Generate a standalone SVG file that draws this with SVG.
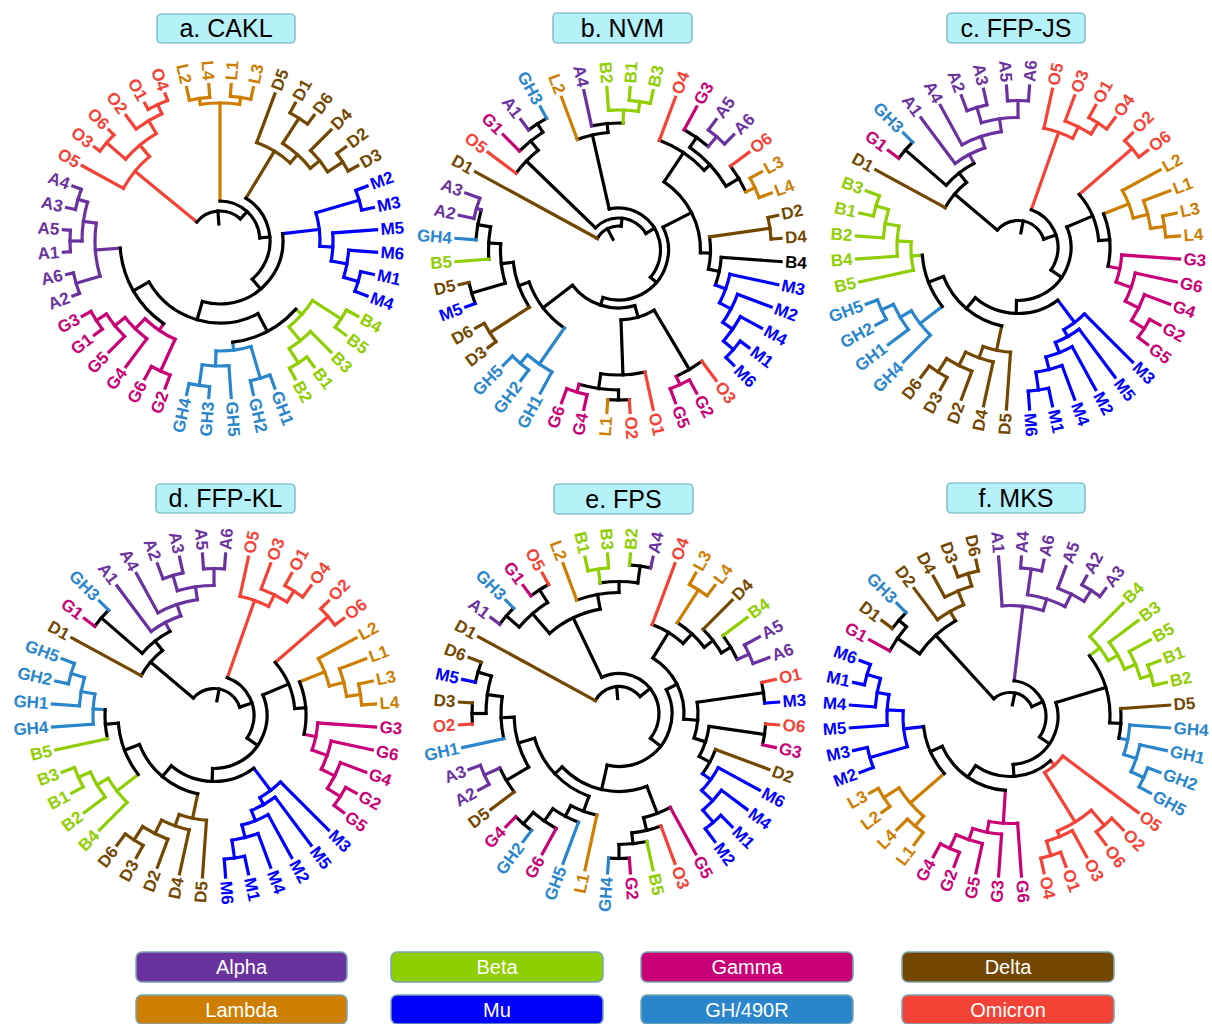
<svg xmlns="http://www.w3.org/2000/svg" width="1212" height="1024" viewBox="0 0 1212 1024">
<style>
.e line,.e circle{fill:none;stroke-width:3.2;stroke-linecap:square}
.k{stroke:#000}.A{stroke:#6a329f}.B{stroke:#8fce00}.G{stroke:#c90076}.D{stroke:#744700}.L{stroke:#ce7e00}.M{stroke:#0000ff}.H{stroke:#2986cc}.O{stroke:#f44336}
.n text{font-family:"Liberation Sans",Arial,sans-serif;font-weight:bold;font-size:17px;dominant-baseline:central;stroke:none}
.n .l{text-anchor:end}
.n .k{fill:#000}.n .A{fill:#6a329f}.n .B{fill:#8fce00}.n .G{fill:#c90076}.n .D{fill:#744700}.n .L{fill:#ce7e00}.n .M{fill:#0000ff}.n .H{fill:#2986cc}.n .O{fill:#f44336}
.title rect{fill:#b5f1f8;stroke:#69aeb9;stroke-width:1.2}
.title text{font-family:"Liberation Sans",Arial,sans-serif;font-size:25px;text-anchor:middle;fill:#000}
.key rect{stroke:#7aa7b1;stroke-width:1.5}
.key text{font-family:"Liberation Sans",Arial,sans-serif;font-size:20px;fill:#fff;text-anchor:middle;dominant-baseline:central}
</style>

<!-- panel titles -->
<g id="title-a" class="title"><rect x="157" y="14" width="138" height="29" rx="4"/><text x="226" y="37">a. CAKL</text></g>
<g id="title-b" class="title"><rect x="553" y="13" width="139" height="30" rx="4"/><text x="622.5" y="37">b. NVM</text></g>
<g id="title-c" class="title"><rect x="947" y="13" width="138" height="30" rx="4"/><text x="1016" y="37">c. FFP-JS</text></g>
<g id="title-d" class="title"><rect x="156" y="484" width="139" height="29" rx="4"/><text x="225.5" y="507">d. FFP-KL</text></g>
<g id="title-e" class="title"><rect x="554" y="484" width="139" height="30" rx="4"/><text x="623.5" y="508">e. FPS</text></g>
<g id="title-f" class="title"><rect x="947" y="483" width="138" height="30" rx="4"/><text x="1016" y="507">f. MKS</text></g>

<!-- ================= a. CAKL ================= -->
<g id="tree-a" transform="translate(220,241)">
<g id="a-edges" class="e">
<circle class="M" r="144" pathLength="360" stroke-dasharray="8.18 720" transform="rotate(12.27)"/>
<line class="M" x1="144" x2="157" transform="rotate(12.27)"/>
<line class="M" x1="144" x2="157" transform="rotate(20.45)"/>
<circle class="M" r="129" pathLength="360" stroke-dasharray="12.27 720" transform="rotate(4.09)"/>
<line class="M" x1="129" x2="157" transform="rotate(4.09)"/>
<line class="M" x1="129" x2="144" transform="rotate(16.36)"/>
<circle class="M" r="113" pathLength="360" stroke-dasharray="14.32 720" transform="rotate(-4.09)"/>
<line class="M" x1="113" x2="157" transform="rotate(-4.09)"/>
<line class="M" x1="113" x2="129" transform="rotate(10.23)"/>
<circle class="M" r="145" pathLength="360" stroke-dasharray="8.18 720" transform="rotate(-20.45)"/>
<line class="M" x1="145" x2="157" transform="rotate(-20.45)"/>
<line class="M" x1="145" x2="157" transform="rotate(-12.27)"/>
<circle class="M" r="100" pathLength="360" stroke-dasharray="19.43 720" transform="rotate(-16.36)"/>
<line class="M" x1="100" x2="145" transform="rotate(-16.36)"/>
<line class="M" x1="100" x2="113" transform="rotate(3.07)"/>
<line class="M" x1="63" x2="100" transform="rotate(-6.65)"/>
<circle class="B" r="144" pathLength="360" stroke-dasharray="8.18 720" transform="rotate(28.64)"/>
<line class="B" x1="144" x2="157" transform="rotate(28.64)"/>
<line class="B" x1="144" x2="157" transform="rotate(36.82)"/>
<circle class="B" r="145" pathLength="360" stroke-dasharray="8.18 720" transform="rotate(53.18)"/>
<line class="B" x1="145" x2="157" transform="rotate(53.18)"/>
<line class="B" x1="145" x2="157" transform="rotate(61.36)"/>
<circle class="B" r="128" pathLength="360" stroke-dasharray="12.27 720" transform="rotate(45)"/>
<line class="B" x1="128" x2="157" transform="rotate(45)"/>
<line class="B" x1="128" x2="145" transform="rotate(57.27)"/>
<circle class="B" r="110" pathLength="360" stroke-dasharray="18.41 720" transform="rotate(32.73)"/>
<line class="B" x1="110" x2="144" transform="rotate(32.73)"/>
<line class="B" x1="110" x2="128" transform="rotate(51.14)"/>
<line class="B" x1="102" x2="110" transform="rotate(41.94)"/>
<circle class="H" r="143" pathLength="360" stroke-dasharray="8.18 720" transform="rotate(69.55)"/>
<line class="H" x1="143" x2="157" transform="rotate(69.55)"/>
<line class="H" x1="143" x2="157" transform="rotate(77.73)"/>
<circle class="H" r="146" pathLength="360" stroke-dasharray="8.18 720" transform="rotate(94.09)"/>
<line class="H" x1="146" x2="157" transform="rotate(94.09)"/>
<line class="H" x1="146" x2="157" transform="rotate(102.27)"/>
<circle class="H" r="125" pathLength="360" stroke-dasharray="12.27 720" transform="rotate(85.91)"/>
<line class="H" x1="125" x2="157" transform="rotate(85.91)"/>
<line class="H" x1="125" x2="146" transform="rotate(98.18)"/>
<circle class="H" r="110" pathLength="360" stroke-dasharray="18.41 720" transform="rotate(73.64)"/>
<line class="H" x1="110" x2="143" transform="rotate(73.64)"/>
<line class="H" x1="110" x2="125" transform="rotate(92.05)"/>
<line class="H" x1="102" x2="110" transform="rotate(82.84)"/>
<circle class="k" r="102" pathLength="360" stroke-dasharray="40.9 720" transform="rotate(41.94)"/>
<line class="k" x1="82" x2="102" transform="rotate(62.39)"/>
<circle class="G" r="147" pathLength="360" stroke-dasharray="8.18 720" transform="rotate(143.18)"/>
<line class="G" x1="147" x2="157" transform="rotate(143.18)"/>
<line class="G" x1="147" x2="157" transform="rotate(151.36)"/>
<circle class="G" r="135" pathLength="360" stroke-dasharray="12.27 720" transform="rotate(135)"/>
<line class="G" x1="135" x2="157" transform="rotate(135)"/>
<line class="G" x1="135" x2="147" transform="rotate(147.27)"/>
<circle class="G" r="122" pathLength="360" stroke-dasharray="14.32 720" transform="rotate(126.82)"/>
<line class="G" x1="122" x2="157" transform="rotate(126.82)"/>
<line class="G" x1="122" x2="135" transform="rotate(141.14)"/>
<circle class="G" r="143" pathLength="360" stroke-dasharray="8.19 720" transform="rotate(110.45)"/>
<line class="G" x1="143" x2="157" transform="rotate(110.45)"/>
<line class="G" x1="143" x2="157" transform="rotate(118.64)"/>
<circle class="G" r="108" pathLength="360" stroke-dasharray="19.43 720" transform="rotate(114.55)"/>
<line class="G" x1="108" x2="143" transform="rotate(114.55)"/>
<line class="G" x1="108" x2="122" transform="rotate(133.98)"/>
<line class="G" x1="100" x2="108" transform="rotate(124.27)"/>
<circle class="A" r="150" pathLength="360" stroke-dasharray="8.18 720" transform="rotate(159.55)"/>
<line class="A" x1="150" x2="157" transform="rotate(159.55)"/>
<line class="A" x1="150" x2="157" transform="rotate(167.73)"/>
<circle class="A" r="150" pathLength="360" stroke-dasharray="8.18 720" transform="rotate(175.91)"/>
<line class="A" x1="150" x2="157" transform="rotate(175.91)"/>
<line class="A" x1="150" x2="157" transform="rotate(184.09)"/>
<circle class="A" r="148" pathLength="360" stroke-dasharray="8.18 720" transform="rotate(192.27)"/>
<line class="A" x1="148" x2="157" transform="rotate(192.27)"/>
<line class="A" x1="148" x2="157" transform="rotate(200.45)"/>
<circle class="A" r="138" pathLength="360" stroke-dasharray="16.36 720" transform="rotate(180)"/>
<line class="A" x1="138" x2="150" transform="rotate(180)"/>
<line class="A" x1="138" x2="148" transform="rotate(196.36)"/>
<circle class="A" r="125" pathLength="360" stroke-dasharray="24.54 720" transform="rotate(163.64)"/>
<line class="A" x1="125" x2="150" transform="rotate(163.64)"/>
<line class="A" x1="125" x2="138" transform="rotate(188.18)"/>
<line class="A" x1="100" x2="125" transform="rotate(175.91)"/>
<circle class="k" r="100" pathLength="360" stroke-dasharray="51.64 720" transform="rotate(124.27)"/>
<line class="k" x1="82" x2="100" transform="rotate(150.09)"/>
<circle class="k" r="82" pathLength="360" stroke-dasharray="87.7 720" transform="rotate(62.39)"/>
<line class="k" x1="63" x2="82" transform="rotate(106.24)"/>
<circle class="k" r="63" pathLength="360" stroke-dasharray="112.89 720" transform="rotate(-6.65)"/>
<line class="k" x1="50" x2="63" transform="rotate(49.8)"/>
<circle class="D" r="146" pathLength="360" stroke-dasharray="8.18 720" transform="rotate(323.18)"/>
<line class="D" x1="146" x2="157" transform="rotate(323.18)"/>
<line class="D" x1="146" x2="157" transform="rotate(331.36)"/>
<circle class="D" r="128" pathLength="360" stroke-dasharray="12.27 720" transform="rotate(315)"/>
<line class="D" x1="128" x2="157" transform="rotate(315)"/>
<line class="D" x1="128" x2="146" transform="rotate(327.27)"/>
<circle class="D" r="146" pathLength="360" stroke-dasharray="8.18 720" transform="rotate(298.64)"/>
<line class="D" x1="146" x2="157" transform="rotate(298.64)"/>
<line class="D" x1="146" x2="157" transform="rotate(306.82)"/>
<circle class="D" r="116" pathLength="360" stroke-dasharray="18.41 720" transform="rotate(302.73)"/>
<line class="D" x1="116" x2="146" transform="rotate(302.73)"/>
<line class="D" x1="116" x2="128" transform="rotate(321.14)"/>
<circle class="D" r="105" pathLength="360" stroke-dasharray="21.48 720" transform="rotate(290.45)"/>
<line class="D" x1="105" x2="157" transform="rotate(290.45)"/>
<line class="D" x1="105" x2="116" transform="rotate(311.93)"/>
<line class="D" x1="50" x2="105" transform="rotate(301.19)"/>
<circle class="k" r="50" pathLength="360" stroke-dasharray="108.61 720" transform="rotate(301.19)"/>
<line class="k" x1="40" x2="50" transform="rotate(355.5)"/>
<circle class="L" r="144" pathLength="360" stroke-dasharray="8.18 720" transform="rotate(257.73)"/>
<line class="L" x1="144" x2="157" transform="rotate(257.73)"/>
<line class="L" x1="144" x2="157" transform="rotate(265.91)"/>
<circle class="L" r="145" pathLength="360" stroke-dasharray="8.18 720" transform="rotate(274.09)"/>
<line class="L" x1="145" x2="157" transform="rotate(274.09)"/>
<line class="L" x1="145" x2="157" transform="rotate(282.27)"/>
<circle class="L" r="138" pathLength="360" stroke-dasharray="16.36 720" transform="rotate(261.82)"/>
<line class="L" x1="138" x2="144" transform="rotate(261.82)"/>
<line class="L" x1="138" x2="145" transform="rotate(278.18)"/>
<line class="L" x1="40" x2="138" transform="rotate(270)"/>
<circle class="k" r="40" pathLength="360" stroke-dasharray="85.5 720" transform="rotate(270)"/>
<line class="k" x1="30" x2="40" transform="rotate(312.75)"/>
<circle class="O" r="150" pathLength="360" stroke-dasharray="8.19 720" transform="rotate(241.36)"/>
<line class="O" x1="150" x2="157" transform="rotate(241.36)"/>
<line class="O" x1="150" x2="157" transform="rotate(249.55)"/>
<circle class="O" r="140" pathLength="360" stroke-dasharray="12.27 720" transform="rotate(233.18)"/>
<line class="O" x1="140" x2="157" transform="rotate(233.18)"/>
<line class="O" x1="140" x2="150" transform="rotate(245.45)"/>
<circle class="O" r="150" pathLength="360" stroke-dasharray="8.18 720" transform="rotate(216.82)"/>
<line class="O" x1="150" x2="157" transform="rotate(216.82)"/>
<line class="O" x1="150" x2="157" transform="rotate(225)"/>
<circle class="O" r="125" pathLength="360" stroke-dasharray="18.41 720" transform="rotate(220.91)"/>
<line class="O" x1="125" x2="150" transform="rotate(220.91)"/>
<line class="O" x1="125" x2="140" transform="rotate(239.32)"/>
<circle class="O" r="110" pathLength="360" stroke-dasharray="21.47 720" transform="rotate(208.64)"/>
<line class="O" x1="110" x2="157" transform="rotate(208.64)"/>
<line class="O" x1="110" x2="125" transform="rotate(230.11)"/>
<line class="O" x1="30" x2="110" transform="rotate(219.38)"/>
<circle class="k" r="30" pathLength="360" stroke-dasharray="93.37 720" transform="rotate(219.38)"/>
<line class="k" x1="17" x2="30" transform="rotate(266.07)"/>
</g>
<g id="a-leaves" class="n">
<text id="a-M5" class="M" x="161" transform="rotate(-4.09)">M5</text>
<text id="a-M6" class="M" x="161" transform="rotate(4.09)">M6</text>
<text id="a-M1" class="M" x="161" transform="rotate(12.27)">M1</text>
<text id="a-M4" class="M" x="161" transform="rotate(20.45)">M4</text>
<text id="a-B4" class="B" x="161" transform="rotate(28.64)">B4</text>
<text id="a-B5" class="B" x="161" transform="rotate(36.82)">B5</text>
<text id="a-B3" class="B" x="161" transform="rotate(45)">B3</text>
<text id="a-B1" class="B" x="161" transform="rotate(53.18)">B1</text>
<text id="a-B2" class="B" x="161" transform="rotate(61.36)">B2</text>
<text id="a-GH1" class="H" x="161" transform="rotate(69.55)">GH1</text>
<text id="a-GH2" class="H" x="161" transform="rotate(77.73)">GH2</text>
<text id="a-GH5" class="H" x="161" transform="rotate(85.91)">GH5</text>
<text id="a-L1" class="L" x="161" transform="rotate(-85.91)">L1</text>
<text id="a-L3" class="L" x="161" transform="rotate(-77.73)">L3</text>
<text id="a-D5" class="D" x="161" transform="rotate(-69.55)">D5</text>
<text id="a-D1" class="D" x="161" transform="rotate(-61.36)">D1</text>
<text id="a-D6" class="D" x="161" transform="rotate(-53.18)">D6</text>
<text id="a-D4" class="D" x="161" transform="rotate(-45)">D4</text>
<text id="a-D2" class="D" x="161" transform="rotate(-36.82)">D2</text>
<text id="a-D3" class="D" x="161" transform="rotate(-28.64)">D3</text>
<text id="a-M2" class="M" x="161" transform="rotate(-20.45)">M2</text>
<text id="a-M3" class="M" x="161" transform="rotate(-12.27)">M3</text>
<text id="a-GH3" class="l H" x="-161" transform="rotate(-85.91)">GH3</text>
<text id="a-GH4" class="l H" x="-161" transform="rotate(-77.73)">GH4</text>
<text id="a-G2" class="l G" x="-161" transform="rotate(-69.55)">G2</text>
<text id="a-G6" class="l G" x="-161" transform="rotate(-61.36)">G6</text>
<text id="a-G4" class="l G" x="-161" transform="rotate(-53.18)">G4</text>
<text id="a-G5" class="l G" x="-161" transform="rotate(-45)">G5</text>
<text id="a-G1" class="l G" x="-161" transform="rotate(-36.82)">G1</text>
<text id="a-G3" class="l G" x="-161" transform="rotate(-28.64)">G3</text>
<text id="a-A2" class="l A" x="-161" transform="rotate(-20.45)">A2</text>
<text id="a-A6" class="l A" x="-161" transform="rotate(-12.27)">A6</text>
<text id="a-A1" class="l A" x="-161" transform="rotate(-4.09)">A1</text>
<text id="a-A5" class="l A" x="-161" transform="rotate(4.09)">A5</text>
<text id="a-A3" class="l A" x="-161" transform="rotate(12.27)">A3</text>
<text id="a-A4" class="l A" x="-161" transform="rotate(20.45)">A4</text>
<text id="a-O5" class="l O" x="-161" transform="rotate(28.64)">O5</text>
<text id="a-O3" class="l O" x="-161" transform="rotate(36.82)">O3</text>
<text id="a-O6" class="l O" x="-161" transform="rotate(45)">O6</text>
<text id="a-O2" class="l O" x="-161" transform="rotate(53.18)">O2</text>
<text id="a-O1" class="l O" x="-161" transform="rotate(61.36)">O1</text>
<text id="a-O4" class="l O" x="-161" transform="rotate(69.55)">O4</text>
<text id="a-L2" class="l L" x="-161" transform="rotate(77.73)">L2</text>
<text id="a-L4" class="l L" x="-161" transform="rotate(85.91)">L4</text>
</g>
</g>

<!-- ================= b. NVM ================= -->
<g id="tree-b" transform="translate(618.5,250)">
<g id="b-edges" class="e">
<circle class="A" r="150" pathLength="360" stroke-dasharray="8.18 720" transform="rotate(306.82)"/>
<line class="A" x1="150" x2="163" transform="rotate(306.82)"/>
<line class="A" x1="150" x2="163" transform="rotate(315)"/>
<circle class="k" r="137" pathLength="360" stroke-dasharray="12.27 720" transform="rotate(298.64)"/>
<line class="G" x1="137" x2="163" transform="rotate(298.64)"/>
<line class="A" x1="137" x2="150" transform="rotate(310.91)"/>
<circle class="L" r="150" pathLength="360" stroke-dasharray="8.19 720" transform="rotate(331.36)"/>
<line class="L" x1="150" x2="163" transform="rotate(331.36)"/>
<line class="L" x1="150" x2="163" transform="rotate(339.55)"/>
<circle class="k" r="140" pathLength="360" stroke-dasharray="12.27 720" transform="rotate(323.18)"/>
<line class="O" x1="140" x2="163" transform="rotate(323.18)"/>
<line class="L" x1="140" x2="150" transform="rotate(335.45)"/>
<circle class="k" r="125" pathLength="360" stroke-dasharray="24.54 720" transform="rotate(304.77)"/>
<line class="k" x1="125" x2="137" transform="rotate(304.77)"/>
<line class="k" x1="125" x2="140" transform="rotate(329.31)"/>
<circle class="k" r="117" pathLength="360" stroke-dasharray="26.59 720" transform="rotate(290.45)"/>
<line class="O" x1="117" x2="163" transform="rotate(290.45)"/>
<line class="k" x1="117" x2="125" transform="rotate(317.04)"/>
<circle class="D" r="153" pathLength="360" stroke-dasharray="8.18 720" transform="rotate(-12.27)"/>
<line class="D" x1="153" x2="163" transform="rotate(-12.27)"/>
<line class="D" x1="153" x2="163" transform="rotate(-4.09)"/>
<circle class="M" r="152" pathLength="360" stroke-dasharray="8.18 720" transform="rotate(36.82)"/>
<line class="M" x1="152" x2="163" transform="rotate(36.82)"/>
<line class="M" x1="152" x2="163" transform="rotate(45)"/>
<circle class="M" r="139" pathLength="360" stroke-dasharray="12.27 720" transform="rotate(28.64)"/>
<line class="M" x1="139" x2="163" transform="rotate(28.64)"/>
<line class="M" x1="139" x2="152" transform="rotate(40.91)"/>
<circle class="M" r="127" pathLength="360" stroke-dasharray="14.32 720" transform="rotate(20.45)"/>
<line class="M" x1="127" x2="163" transform="rotate(20.45)"/>
<line class="M" x1="127" x2="139" transform="rotate(34.77)"/>
<circle class="M" r="114" pathLength="360" stroke-dasharray="15.34 720" transform="rotate(12.27)"/>
<line class="M" x1="114" x2="163" transform="rotate(12.27)"/>
<line class="M" x1="114" x2="127" transform="rotate(27.61)"/>
<circle class="k" r="103" pathLength="360" stroke-dasharray="15.85 720" transform="rotate(4.09)"/>
<line class="k" x1="103" x2="163" transform="rotate(4.09)"/>
<line class="M" x1="103" x2="114" transform="rotate(19.94)"/>
<circle class="k" r="92" pathLength="360" stroke-dasharray="20.2 720" transform="rotate(-8.18)"/>
<line class="D" x1="92" x2="153" transform="rotate(-8.18)"/>
<line class="k" x1="92" x2="103" transform="rotate(12.02)"/>
<circle class="k" r="82" pathLength="360" stroke-dasharray="58.17 720" transform="rotate(-56.25)"/>
<line class="k" x1="82" x2="117" transform="rotate(-56.25)"/>
<line class="k" x1="82" x2="92" transform="rotate(1.92)"/>
<circle class="G" r="148" pathLength="360" stroke-dasharray="8.19 720" transform="rotate(61.36)"/>
<line class="G" x1="148" x2="163" transform="rotate(61.36)"/>
<line class="G" x1="148" x2="163" transform="rotate(69.55)"/>
<circle class="k" r="139" pathLength="360" stroke-dasharray="12.27 720" transform="rotate(53.18)"/>
<line class="O" x1="139" x2="163" transform="rotate(53.18)"/>
<line class="G" x1="139" x2="148" transform="rotate(65.45)"/>
<circle class="k" r="150" pathLength="360" stroke-dasharray="8.18 720" transform="rotate(85.91)"/>
<line class="O" x1="150" x2="163" transform="rotate(85.91)"/>
<line class="L" x1="150" x2="163" transform="rotate(94.09)"/>
<circle class="G" r="148" pathLength="360" stroke-dasharray="8.18 720" transform="rotate(102.27)"/>
<line class="G" x1="148" x2="163" transform="rotate(102.27)"/>
<line class="G" x1="148" x2="163" transform="rotate(110.45)"/>
<circle class="k" r="140" pathLength="360" stroke-dasharray="16.36 720" transform="rotate(90)"/>
<line class="k" x1="140" x2="150" transform="rotate(90)"/>
<line class="G" x1="140" x2="148" transform="rotate(106.36)"/>
<circle class="k" r="125" pathLength="360" stroke-dasharray="20.45 720" transform="rotate(77.73)"/>
<line class="O" x1="125" x2="163" transform="rotate(77.73)"/>
<line class="k" x1="125" x2="140" transform="rotate(98.18)"/>
<circle class="k" r="70" pathLength="360" stroke-dasharray="28.64 720" transform="rotate(59.32)"/>
<line class="k" x1="70" x2="139" transform="rotate(59.32)"/>
<line class="k" x1="70" x2="125" transform="rotate(87.96)"/>
<circle class="H" r="150" pathLength="360" stroke-dasharray="8.18 720" transform="rotate(126.82)"/>
<line class="H" x1="150" x2="163" transform="rotate(126.82)"/>
<line class="H" x1="150" x2="163" transform="rotate(135)"/>
<circle class="H" r="139" pathLength="360" stroke-dasharray="12.27 720" transform="rotate(118.64)"/>
<line class="H" x1="139" x2="163" transform="rotate(118.64)"/>
<line class="H" x1="139" x2="150" transform="rotate(130.91)"/>
<circle class="D" r="153" pathLength="360" stroke-dasharray="8.18 720" transform="rotate(143.18)"/>
<line class="D" x1="153" x2="163" transform="rotate(143.18)"/>
<line class="D" x1="153" x2="163" transform="rotate(151.36)"/>
<circle class="k" r="153" pathLength="360" stroke-dasharray="8.18 720" transform="rotate(159.55)"/>
<line class="M" x1="153" x2="163" transform="rotate(159.55)"/>
<line class="D" x1="153" x2="163" transform="rotate(167.73)"/>
<circle class="A" r="148" pathLength="360" stroke-dasharray="8.18 720" transform="rotate(192.27)"/>
<line class="A" x1="148" x2="163" transform="rotate(192.27)"/>
<line class="A" x1="148" x2="163" transform="rotate(200.45)"/>
<circle class="k" r="143" pathLength="360" stroke-dasharray="12.27 720" transform="rotate(184.09)"/>
<line class="H" x1="143" x2="163" transform="rotate(184.09)"/>
<line class="A" x1="143" x2="148" transform="rotate(196.36)"/>
<circle class="k" r="130" pathLength="360" stroke-dasharray="14.32 720" transform="rotate(175.91)"/>
<line class="B" x1="130" x2="163" transform="rotate(175.91)"/>
<line class="k" x1="130" x2="143" transform="rotate(190.23)"/>
<circle class="k" r="118" pathLength="360" stroke-dasharray="19.43 720" transform="rotate(163.64)"/>
<line class="k" x1="118" x2="153" transform="rotate(163.64)"/>
<line class="k" x1="118" x2="130" transform="rotate(183.07)"/>
<circle class="k" r="106" pathLength="360" stroke-dasharray="26.09 720" transform="rotate(147.27)"/>
<line class="D" x1="106" x2="153" transform="rotate(147.27)"/>
<line class="k" x1="106" x2="118" transform="rotate(173.36)"/>
<circle class="k" r="95" pathLength="360" stroke-dasharray="35.54 720" transform="rotate(124.78)"/>
<line class="H" x1="95" x2="139" transform="rotate(124.78)"/>
<line class="k" x1="95" x2="106" transform="rotate(160.32)"/>
<circle class="k" r="58" pathLength="360" stroke-dasharray="68.91 720" transform="rotate(73.64)"/>
<line class="k" x1="58" x2="70" transform="rotate(73.64)"/>
<line class="k" x1="58" x2="95" transform="rotate(142.55)"/>
<circle class="k" r="50" pathLength="360" stroke-dasharray="135.27 720" transform="rotate(-27.17)"/>
<line class="k" x1="50" x2="82" transform="rotate(-27.17)"/>
<line class="k" x1="50" x2="58" transform="rotate(108.1)"/>
<circle class="k" r="150" pathLength="360" stroke-dasharray="8.18 720" transform="rotate(233.18)"/>
<line class="A" x1="150" x2="163" transform="rotate(233.18)"/>
<line class="H" x1="150" x2="163" transform="rotate(241.36)"/>
<circle class="k" r="140" pathLength="360" stroke-dasharray="12.27 720" transform="rotate(225)"/>
<line class="G" x1="140" x2="163" transform="rotate(225)"/>
<line class="k" x1="140" x2="150" transform="rotate(237.27)"/>
<circle class="k" r="128" pathLength="360" stroke-dasharray="14.32 720" transform="rotate(216.82)"/>
<line class="O" x1="128" x2="163" transform="rotate(216.82)"/>
<line class="k" x1="128" x2="140" transform="rotate(231.14)"/>
<circle class="B" r="150" pathLength="360" stroke-dasharray="8.18 720" transform="rotate(274.09)"/>
<line class="B" x1="150" x2="163" transform="rotate(274.09)"/>
<line class="B" x1="150" x2="163" transform="rotate(282.27)"/>
<circle class="B" r="140" pathLength="360" stroke-dasharray="12.27 720" transform="rotate(265.91)"/>
<line class="B" x1="140" x2="163" transform="rotate(265.91)"/>
<line class="B" x1="140" x2="150" transform="rotate(278.18)"/>
<circle class="k" r="127" pathLength="360" stroke-dasharray="14.32 720" transform="rotate(257.73)"/>
<line class="A" x1="127" x2="163" transform="rotate(257.73)"/>
<line class="B" x1="127" x2="140" transform="rotate(272.05)"/>
<circle class="k" r="118" pathLength="360" stroke-dasharray="15.34 720" transform="rotate(249.55)"/>
<line class="L" x1="118" x2="163" transform="rotate(249.55)"/>
<line class="k" x1="118" x2="127" transform="rotate(264.89)"/>
<circle class="k" r="42" pathLength="360" stroke-dasharray="143.25 720" transform="rotate(257.22)"/>
<line class="k" x1="42" x2="118" transform="rotate(257.22)"/>
<line class="k" x1="42" x2="50" transform="rotate(40.47)"/>
<circle class="k" r="32" pathLength="360" stroke-dasharray="104.87 720" transform="rotate(223.98)"/>
<line class="k" x1="32" x2="128" transform="rotate(223.98)"/>
<line class="k" x1="32" x2="42" transform="rotate(328.85)"/>
<circle class="k" r="24" pathLength="360" stroke-dasharray="67.78 720" transform="rotate(208.64)"/>
<line class="D" x1="24" x2="163" transform="rotate(208.64)"/>
<line class="k" x1="24" x2="32" transform="rotate(276.42)"/>
<line class="k" x1="12" x2="24" transform="rotate(242.53)"/>
</g>
<g id="b-leaves" class="n">
<text id="b-D2" class="D" x="167" transform="rotate(-12.27)">D2</text>
<text id="b-D4" class="D" x="167" transform="rotate(-4.09)">D4</text>
<text id="b-B4" class="k" x="167" transform="rotate(4.09)">B4</text>
<text id="b-M3" class="M" x="167" transform="rotate(12.27)">M3</text>
<text id="b-M2" class="M" x="167" transform="rotate(20.45)">M2</text>
<text id="b-M4" class="M" x="167" transform="rotate(28.64)">M4</text>
<text id="b-M1" class="M" x="167" transform="rotate(36.82)">M1</text>
<text id="b-M6" class="M" x="167" transform="rotate(45)">M6</text>
<text id="b-O3" class="O" x="167" transform="rotate(53.18)">O3</text>
<text id="b-G2" class="G" x="167" transform="rotate(61.36)">G2</text>
<text id="b-G5" class="G" x="167" transform="rotate(69.55)">G5</text>
<text id="b-O1" class="O" x="167" transform="rotate(77.73)">O1</text>
<text id="b-O2" class="O" x="167" transform="rotate(85.91)">O2</text>
<text id="b-B1" class="B" x="167" transform="rotate(-85.91)">B1</text>
<text id="b-B3" class="B" x="167" transform="rotate(-77.73)">B3</text>
<text id="b-O4" class="O" x="167" transform="rotate(-69.55)">O4</text>
<text id="b-G3" class="G" x="167" transform="rotate(-61.36)">G3</text>
<text id="b-A5" class="A" x="167" transform="rotate(-53.18)">A5</text>
<text id="b-A6" class="A" x="167" transform="rotate(-45)">A6</text>
<text id="b-O6" class="O" x="167" transform="rotate(-36.82)">O6</text>
<text id="b-L3" class="L" x="167" transform="rotate(-28.64)">L3</text>
<text id="b-L4" class="L" x="167" transform="rotate(-20.45)">L4</text>
<text id="b-L1" class="l L" x="-167" transform="rotate(-85.91)">L1</text>
<text id="b-G4" class="l G" x="-167" transform="rotate(-77.73)">G4</text>
<text id="b-G6" class="l G" x="-167" transform="rotate(-69.55)">G6</text>
<text id="b-GH1" class="l H" x="-167" transform="rotate(-61.36)">GH1</text>
<text id="b-GH2" class="l H" x="-167" transform="rotate(-53.18)">GH2</text>
<text id="b-GH5" class="l H" x="-167" transform="rotate(-45)">GH5</text>
<text id="b-D3" class="l D" x="-167" transform="rotate(-36.82)">D3</text>
<text id="b-D6" class="l D" x="-167" transform="rotate(-28.64)">D6</text>
<text id="b-M5" class="l M" x="-167" transform="rotate(-20.45)">M5</text>
<text id="b-D5" class="l D" x="-167" transform="rotate(-12.27)">D5</text>
<text id="b-B5" class="l B" x="-167" transform="rotate(-4.09)">B5</text>
<text id="b-GH4" class="l H" x="-167" transform="rotate(4.09)">GH4</text>
<text id="b-A2" class="l A" x="-167" transform="rotate(12.27)">A2</text>
<text id="b-A3" class="l A" x="-167" transform="rotate(20.45)">A3</text>
<text id="b-D1" class="l D" x="-167" transform="rotate(28.64)">D1</text>
<text id="b-O5" class="l O" x="-167" transform="rotate(36.82)">O5</text>
<text id="b-G1" class="l G" x="-167" transform="rotate(45)">G1</text>
<text id="b-A1" class="l A" x="-167" transform="rotate(53.18)">A1</text>
<text id="b-GH3" class="l H" x="-167" transform="rotate(61.36)">GH3</text>
<text id="b-L2" class="l L" x="-167" transform="rotate(69.55)">L2</text>
<text id="b-A4" class="l A" x="-167" transform="rotate(77.73)">A4</text>
<text id="b-B2" class="l B" x="-167" transform="rotate(85.91)">B2</text>
</g>
</g>

<!-- ================= c. FFP-JS ================= -->
<g id="tree-c" transform="translate(1018,247.5)">
<g id="c-edges" class="e">
<circle class="O" r="148" pathLength="360" stroke-dasharray="8.18 720" transform="rotate(298.64)"/>
<line class="O" x1="148" x2="162" transform="rotate(298.64)"/>
<line class="O" x1="148" x2="162" transform="rotate(306.82)"/>
<circle class="O" r="135" pathLength="360" stroke-dasharray="12.28 720" transform="rotate(290.45)"/>
<line class="O" x1="135" x2="162" transform="rotate(290.45)"/>
<line class="O" x1="135" x2="148" transform="rotate(302.73)"/>
<circle class="O" r="122" pathLength="360" stroke-dasharray="14.32 720" transform="rotate(282.27)"/>
<line class="O" x1="122" x2="162" transform="rotate(282.27)"/>
<line class="O" x1="122" x2="135" transform="rotate(296.59)"/>
<line class="O" x1="40" x2="122" transform="rotate(289.43)"/>
<circle class="O" r="151" pathLength="360" stroke-dasharray="8.18 720" transform="rotate(315)"/>
<line class="O" x1="151" x2="162" transform="rotate(315)"/>
<line class="O" x1="151" x2="162" transform="rotate(323.18)"/>
<line class="O" x1="81" x2="151" transform="rotate(319.09)"/>
<circle class="L" r="148" pathLength="360" stroke-dasharray="8.18 720" transform="rotate(347.73)"/>
<line class="L" x1="148" x2="162" transform="rotate(347.73)"/>
<line class="L" x1="148" x2="162" transform="rotate(355.91)"/>
<circle class="L" r="134" pathLength="360" stroke-dasharray="12.27 720" transform="rotate(339.55)"/>
<line class="L" x1="134" x2="162" transform="rotate(339.55)"/>
<line class="L" x1="134" x2="148" transform="rotate(351.82)"/>
<circle class="L" r="119" pathLength="360" stroke-dasharray="14.33 720" transform="rotate(331.36)"/>
<line class="L" x1="119" x2="162" transform="rotate(331.36)"/>
<line class="L" x1="119" x2="134" transform="rotate(345.69)"/>
<line class="L" x1="92" x2="119" transform="rotate(338.52)"/>
<circle class="G" r="150" pathLength="360" stroke-dasharray="8.18 720" transform="rotate(28.64)"/>
<line class="G" x1="150" x2="162" transform="rotate(28.64)"/>
<line class="G" x1="150" x2="162" transform="rotate(36.82)"/>
<circle class="G" r="135" pathLength="360" stroke-dasharray="12.28 720" transform="rotate(20.45)"/>
<line class="G" x1="135" x2="162" transform="rotate(20.45)"/>
<line class="G" x1="135" x2="150" transform="rotate(32.73)"/>
<circle class="G" r="120" pathLength="360" stroke-dasharray="14.32 720" transform="rotate(12.27)"/>
<line class="G" x1="120" x2="162" transform="rotate(12.27)"/>
<line class="G" x1="120" x2="135" transform="rotate(26.59)"/>
<circle class="G" r="104" pathLength="360" stroke-dasharray="15.34 720" transform="rotate(4.09)"/>
<line class="G" x1="104" x2="162" transform="rotate(4.09)"/>
<line class="G" x1="104" x2="120" transform="rotate(19.43)"/>
<line class="G" x1="92" x2="104" transform="rotate(11.76)"/>
<circle class="k" r="92" pathLength="360" stroke-dasharray="33.24 720" transform="rotate(338.52)"/>
<line class="k" x1="81" x2="92" transform="rotate(355.14)"/>
<circle class="k" r="81" pathLength="360" stroke-dasharray="36.05 720" transform="rotate(319.09)"/>
<line class="k" x1="53" x2="81" transform="rotate(337.12)"/>
<circle class="M" r="144" pathLength="360" stroke-dasharray="8.18 720" transform="rotate(77.73)"/>
<line class="M" x1="144" x2="162" transform="rotate(77.73)"/>
<line class="M" x1="144" x2="162" transform="rotate(85.91)"/>
<circle class="M" r="126" pathLength="360" stroke-dasharray="12.27 720" transform="rotate(69.55)"/>
<line class="M" x1="126" x2="162" transform="rotate(69.55)"/>
<line class="M" x1="126" x2="144" transform="rotate(81.82)"/>
<circle class="M" r="113" pathLength="360" stroke-dasharray="14.33 720" transform="rotate(61.36)"/>
<line class="M" x1="113" x2="162" transform="rotate(61.36)"/>
<line class="M" x1="113" x2="126" transform="rotate(75.69)"/>
<circle class="M" r="102" pathLength="360" stroke-dasharray="15.35 720" transform="rotate(53.18)"/>
<line class="M" x1="102" x2="162" transform="rotate(53.18)"/>
<line class="M" x1="102" x2="113" transform="rotate(68.53)"/>
<circle class="M" r="94" pathLength="360" stroke-dasharray="15.86 720" transform="rotate(45)"/>
<line class="M" x1="94" x2="162" transform="rotate(45)"/>
<line class="M" x1="94" x2="102" transform="rotate(60.86)"/>
<line class="M" x1="66" x2="94" transform="rotate(52.93)"/>
<circle class="D" r="148" pathLength="360" stroke-dasharray="8.18 720" transform="rotate(118.64)"/>
<line class="D" x1="148" x2="162" transform="rotate(118.64)"/>
<line class="D" x1="148" x2="162" transform="rotate(126.82)"/>
<circle class="D" r="132" pathLength="360" stroke-dasharray="12.28 720" transform="rotate(110.45)"/>
<line class="D" x1="132" x2="162" transform="rotate(110.45)"/>
<line class="D" x1="132" x2="148" transform="rotate(122.73)"/>
<circle class="D" r="117" pathLength="360" stroke-dasharray="14.32 720" transform="rotate(102.27)"/>
<line class="D" x1="117" x2="162" transform="rotate(102.27)"/>
<line class="D" x1="117" x2="132" transform="rotate(116.59)"/>
<circle class="D" r="105" pathLength="360" stroke-dasharray="15.34 720" transform="rotate(94.09)"/>
<line class="D" x1="105" x2="162" transform="rotate(94.09)"/>
<line class="D" x1="105" x2="117" transform="rotate(109.43)"/>
<line class="D" x1="80" x2="105" transform="rotate(101.76)"/>
<circle class="H" r="150" pathLength="360" stroke-dasharray="8.19 720" transform="rotate(151.36)"/>
<line class="H" x1="150" x2="162" transform="rotate(151.36)"/>
<line class="H" x1="150" x2="162" transform="rotate(159.55)"/>
<circle class="H" r="137" pathLength="360" stroke-dasharray="12.27 720" transform="rotate(143.18)"/>
<line class="H" x1="137" x2="162" transform="rotate(143.18)"/>
<line class="H" x1="137" x2="150" transform="rotate(155.45)"/>
<circle class="H" r="124" pathLength="360" stroke-dasharray="14.32 720" transform="rotate(135)"/>
<line class="H" x1="124" x2="162" transform="rotate(135)"/>
<line class="H" x1="124" x2="137" transform="rotate(149.32)"/>
<line class="H" x1="96" x2="124" transform="rotate(142.16)"/>
<circle class="B" r="148" pathLength="360" stroke-dasharray="8.18 720" transform="rotate(192.27)"/>
<line class="B" x1="148" x2="162" transform="rotate(192.27)"/>
<line class="B" x1="148" x2="162" transform="rotate(200.45)"/>
<circle class="B" r="135" pathLength="360" stroke-dasharray="12.27 720" transform="rotate(184.09)"/>
<line class="B" x1="135" x2="162" transform="rotate(184.09)"/>
<line class="B" x1="135" x2="148" transform="rotate(196.36)"/>
<circle class="B" r="121" pathLength="360" stroke-dasharray="14.32 720" transform="rotate(175.91)"/>
<line class="B" x1="121" x2="162" transform="rotate(175.91)"/>
<line class="B" x1="121" x2="135" transform="rotate(190.23)"/>
<circle class="B" r="107" pathLength="360" stroke-dasharray="15.34 720" transform="rotate(167.73)"/>
<line class="B" x1="107" x2="162" transform="rotate(167.73)"/>
<line class="B" x1="107" x2="121" transform="rotate(183.07)"/>
<line class="B" x1="96" x2="107" transform="rotate(175.4)"/>
<circle class="k" r="96" pathLength="360" stroke-dasharray="33.24 720" transform="rotate(142.16)"/>
<line class="k" x1="80" x2="96" transform="rotate(158.78)"/>
<circle class="k" r="80" pathLength="360" stroke-dasharray="57.02 720" transform="rotate(101.76)"/>
<line class="k" x1="66" x2="80" transform="rotate(130.27)"/>
<circle class="k" r="66" pathLength="360" stroke-dasharray="77.34 720" transform="rotate(52.93)"/>
<line class="k" x1="53" x2="66" transform="rotate(91.6)"/>
<circle class="k" r="53" pathLength="360" stroke-dasharray="114.48 720" transform="rotate(337.12)"/>
<line class="k" x1="40" x2="53" transform="rotate(34.36)"/>
<circle class="k" r="40" pathLength="360" stroke-dasharray="104.93 720" transform="rotate(289.43)"/>
<line class="k" x1="27" x2="40" transform="rotate(341.9)"/>
<circle class="A" r="147" pathLength="360" stroke-dasharray="8.18 720" transform="rotate(265.91)"/>
<line class="A" x1="147" x2="162" transform="rotate(265.91)"/>
<line class="A" x1="147" x2="162" transform="rotate(274.09)"/>
<circle class="A" r="146" pathLength="360" stroke-dasharray="8.18 720" transform="rotate(249.55)"/>
<line class="A" x1="146" x2="162" transform="rotate(249.55)"/>
<line class="A" x1="146" x2="162" transform="rotate(257.73)"/>
<circle class="A" r="130" pathLength="360" stroke-dasharray="16.36 720" transform="rotate(253.64)"/>
<line class="A" x1="130" x2="146" transform="rotate(253.64)"/>
<line class="A" x1="130" x2="147" transform="rotate(270)"/>
<circle class="A" r="117" pathLength="360" stroke-dasharray="20.46 720" transform="rotate(241.36)"/>
<line class="A" x1="117" x2="162" transform="rotate(241.36)"/>
<line class="A" x1="117" x2="130" transform="rotate(261.82)"/>
<circle class="A" r="105" pathLength="360" stroke-dasharray="18.41 720" transform="rotate(233.18)"/>
<line class="A" x1="105" x2="162" transform="rotate(233.18)"/>
<line class="A" x1="105" x2="117" transform="rotate(251.59)"/>
<line class="A" x1="95" x2="105" transform="rotate(242.39)"/>
<circle class="k" r="149" pathLength="360" stroke-dasharray="8.18 720" transform="rotate(216.82)"/>
<line class="G" x1="149" x2="162" transform="rotate(216.82)"/>
<line class="H" x1="149" x2="162" transform="rotate(225)"/>
<circle class="k" r="95" pathLength="360" stroke-dasharray="21.48 720" transform="rotate(220.91)"/>
<line class="k" x1="95" x2="149" transform="rotate(220.91)"/>
<line class="k" x1="83" x2="95" transform="rotate(231.65)"/>
<circle class="k" r="83" pathLength="360" stroke-dasharray="23.01 720" transform="rotate(208.64)"/>
<line class="D" x1="83" x2="162" transform="rotate(208.64)"/>
<line class="k" x1="27" x2="83" transform="rotate(220.15)"/>
<circle class="k" r="27" pathLength="360" stroke-dasharray="121.75 720" transform="rotate(220.15)"/>
<line class="k" x1="15" x2="27" transform="rotate(281.03)"/>
</g>
<g id="c-leaves" class="n">
<text id="c-L4" class="L" x="166" transform="rotate(-4.09)">L4</text>
<text id="c-G3" class="G" x="166" transform="rotate(4.09)">G3</text>
<text id="c-G6" class="G" x="166" transform="rotate(12.27)">G6</text>
<text id="c-G4" class="G" x="166" transform="rotate(20.45)">G4</text>
<text id="c-G2" class="G" x="166" transform="rotate(28.64)">G2</text>
<text id="c-G5" class="G" x="166" transform="rotate(36.82)">G5</text>
<text id="c-M3" class="M" x="166" transform="rotate(45)">M3</text>
<text id="c-M5" class="M" x="166" transform="rotate(53.18)">M5</text>
<text id="c-M2" class="M" x="166" transform="rotate(61.36)">M2</text>
<text id="c-M4" class="M" x="166" transform="rotate(69.55)">M4</text>
<text id="c-M1" class="M" x="166" transform="rotate(77.73)">M1</text>
<text id="c-M6" class="M" x="166" transform="rotate(85.91)">M6</text>
<text id="c-A6" class="A" x="166" transform="rotate(-85.91)">A6</text>
<text id="c-O5" class="O" x="166" transform="rotate(-77.73)">O5</text>
<text id="c-O3" class="O" x="166" transform="rotate(-69.55)">O3</text>
<text id="c-O1" class="O" x="166" transform="rotate(-61.36)">O1</text>
<text id="c-O4" class="O" x="166" transform="rotate(-53.18)">O4</text>
<text id="c-O2" class="O" x="166" transform="rotate(-45)">O2</text>
<text id="c-O6" class="O" x="166" transform="rotate(-36.82)">O6</text>
<text id="c-L2" class="L" x="166" transform="rotate(-28.64)">L2</text>
<text id="c-L1" class="L" x="166" transform="rotate(-20.45)">L1</text>
<text id="c-L3" class="L" x="166" transform="rotate(-12.27)">L3</text>
<text id="c-D5" class="l D" x="-166" transform="rotate(-85.91)">D5</text>
<text id="c-D4" class="l D" x="-166" transform="rotate(-77.73)">D4</text>
<text id="c-D2" class="l D" x="-166" transform="rotate(-69.55)">D2</text>
<text id="c-D3" class="l D" x="-166" transform="rotate(-61.36)">D3</text>
<text id="c-D6" class="l D" x="-166" transform="rotate(-53.18)">D6</text>
<text id="c-GH4" class="l H" x="-166" transform="rotate(-45)">GH4</text>
<text id="c-GH1" class="l H" x="-166" transform="rotate(-36.82)">GH1</text>
<text id="c-GH2" class="l H" x="-166" transform="rotate(-28.64)">GH2</text>
<text id="c-GH5" class="l H" x="-166" transform="rotate(-20.45)">GH5</text>
<text id="c-B5" class="l B" x="-166" transform="rotate(-12.27)">B5</text>
<text id="c-B4" class="l B" x="-166" transform="rotate(-4.09)">B4</text>
<text id="c-B2" class="l B" x="-166" transform="rotate(4.09)">B2</text>
<text id="c-B1" class="l B" x="-166" transform="rotate(12.27)">B1</text>
<text id="c-B3" class="l B" x="-166" transform="rotate(20.45)">B3</text>
<text id="c-D1" class="l D" x="-166" transform="rotate(28.64)">D1</text>
<text id="c-G1" class="l G" x="-166" transform="rotate(36.82)">G1</text>
<text id="c-GH3" class="l H" x="-166" transform="rotate(45)">GH3</text>
<text id="c-A1" class="l A" x="-166" transform="rotate(53.18)">A1</text>
<text id="c-A4" class="l A" x="-166" transform="rotate(61.36)">A4</text>
<text id="c-A2" class="l A" x="-166" transform="rotate(69.55)">A2</text>
<text id="c-A3" class="l A" x="-166" transform="rotate(77.73)">A3</text>
<text id="c-A5" class="l A" x="-166" transform="rotate(85.91)">A5</text>
</g>
</g>

<!-- ================= d. FFP-KL ================= -->
<g id="tree-d" transform="translate(214,715.5)">
<g id="d-edges" class="e">
<circle class="O" r="148" pathLength="360" stroke-dasharray="8.18 720" transform="rotate(298.64)"/>
<line class="O" x1="148" x2="162" transform="rotate(298.64)"/>
<line class="O" x1="148" x2="162" transform="rotate(306.82)"/>
<circle class="O" r="135" pathLength="360" stroke-dasharray="12.28 720" transform="rotate(290.45)"/>
<line class="O" x1="135" x2="162" transform="rotate(290.45)"/>
<line class="O" x1="135" x2="148" transform="rotate(302.73)"/>
<circle class="O" r="122" pathLength="360" stroke-dasharray="14.32 720" transform="rotate(282.27)"/>
<line class="O" x1="122" x2="162" transform="rotate(282.27)"/>
<line class="O" x1="122" x2="135" transform="rotate(296.59)"/>
<line class="O" x1="40" x2="122" transform="rotate(289.43)"/>
<circle class="O" r="151" pathLength="360" stroke-dasharray="8.18 720" transform="rotate(315)"/>
<line class="O" x1="151" x2="162" transform="rotate(315)"/>
<line class="O" x1="151" x2="162" transform="rotate(323.18)"/>
<line class="O" x1="81" x2="151" transform="rotate(319.09)"/>
<circle class="L" r="148" pathLength="360" stroke-dasharray="8.18 720" transform="rotate(347.73)"/>
<line class="L" x1="148" x2="162" transform="rotate(347.73)"/>
<line class="L" x1="148" x2="162" transform="rotate(355.91)"/>
<circle class="L" r="134" pathLength="360" stroke-dasharray="12.27 720" transform="rotate(339.55)"/>
<line class="L" x1="134" x2="162" transform="rotate(339.55)"/>
<line class="L" x1="134" x2="148" transform="rotate(351.82)"/>
<circle class="L" r="119" pathLength="360" stroke-dasharray="14.33 720" transform="rotate(331.36)"/>
<line class="L" x1="119" x2="162" transform="rotate(331.36)"/>
<line class="L" x1="119" x2="134" transform="rotate(345.69)"/>
<line class="L" x1="92" x2="119" transform="rotate(338.52)"/>
<circle class="G" r="150" pathLength="360" stroke-dasharray="8.18 720" transform="rotate(28.64)"/>
<line class="G" x1="150" x2="162" transform="rotate(28.64)"/>
<line class="G" x1="150" x2="162" transform="rotate(36.82)"/>
<circle class="G" r="135" pathLength="360" stroke-dasharray="12.28 720" transform="rotate(20.45)"/>
<line class="G" x1="135" x2="162" transform="rotate(20.45)"/>
<line class="G" x1="135" x2="150" transform="rotate(32.73)"/>
<circle class="G" r="120" pathLength="360" stroke-dasharray="14.32 720" transform="rotate(12.27)"/>
<line class="G" x1="120" x2="162" transform="rotate(12.27)"/>
<line class="G" x1="120" x2="135" transform="rotate(26.59)"/>
<circle class="G" r="104" pathLength="360" stroke-dasharray="15.34 720" transform="rotate(4.09)"/>
<line class="G" x1="104" x2="162" transform="rotate(4.09)"/>
<line class="G" x1="104" x2="120" transform="rotate(19.43)"/>
<line class="G" x1="92" x2="104" transform="rotate(11.76)"/>
<circle class="k" r="92" pathLength="360" stroke-dasharray="33.24 720" transform="rotate(338.52)"/>
<line class="k" x1="81" x2="92" transform="rotate(355.14)"/>
<circle class="k" r="81" pathLength="360" stroke-dasharray="36.05 720" transform="rotate(319.09)"/>
<line class="k" x1="53" x2="81" transform="rotate(337.12)"/>
<circle class="M" r="144" pathLength="360" stroke-dasharray="8.18 720" transform="rotate(77.73)"/>
<line class="M" x1="144" x2="162" transform="rotate(77.73)"/>
<line class="M" x1="144" x2="162" transform="rotate(85.91)"/>
<circle class="M" r="126" pathLength="360" stroke-dasharray="12.27 720" transform="rotate(69.55)"/>
<line class="M" x1="126" x2="162" transform="rotate(69.55)"/>
<line class="M" x1="126" x2="144" transform="rotate(81.82)"/>
<circle class="M" r="113" pathLength="360" stroke-dasharray="14.33 720" transform="rotate(61.36)"/>
<line class="M" x1="113" x2="162" transform="rotate(61.36)"/>
<line class="M" x1="113" x2="126" transform="rotate(75.69)"/>
<circle class="M" r="102" pathLength="360" stroke-dasharray="15.35 720" transform="rotate(53.18)"/>
<line class="M" x1="102" x2="162" transform="rotate(53.18)"/>
<line class="M" x1="102" x2="113" transform="rotate(68.53)"/>
<circle class="M" r="94" pathLength="360" stroke-dasharray="15.86 720" transform="rotate(45)"/>
<line class="M" x1="94" x2="162" transform="rotate(45)"/>
<line class="M" x1="94" x2="102" transform="rotate(60.86)"/>
<line class="M" x1="66" x2="94" transform="rotate(52.93)"/>
<circle class="D" r="148" pathLength="360" stroke-dasharray="8.18 720" transform="rotate(118.64)"/>
<line class="D" x1="148" x2="162" transform="rotate(118.64)"/>
<line class="D" x1="148" x2="162" transform="rotate(126.82)"/>
<circle class="D" r="132" pathLength="360" stroke-dasharray="12.28 720" transform="rotate(110.45)"/>
<line class="D" x1="132" x2="162" transform="rotate(110.45)"/>
<line class="D" x1="132" x2="148" transform="rotate(122.73)"/>
<circle class="D" r="117" pathLength="360" stroke-dasharray="14.32 720" transform="rotate(102.27)"/>
<line class="D" x1="117" x2="162" transform="rotate(102.27)"/>
<line class="D" x1="117" x2="132" transform="rotate(116.59)"/>
<circle class="D" r="105" pathLength="360" stroke-dasharray="15.34 720" transform="rotate(94.09)"/>
<line class="D" x1="105" x2="162" transform="rotate(94.09)"/>
<line class="D" x1="105" x2="117" transform="rotate(109.43)"/>
<line class="D" x1="80" x2="105" transform="rotate(101.76)"/>
<circle class="B" r="149" pathLength="360" stroke-dasharray="8.19 720" transform="rotate(151.36)"/>
<line class="B" x1="149" x2="162" transform="rotate(151.36)"/>
<line class="B" x1="149" x2="162" transform="rotate(159.55)"/>
<circle class="B" r="136" pathLength="360" stroke-dasharray="12.27 720" transform="rotate(143.18)"/>
<line class="B" x1="136" x2="162" transform="rotate(143.18)"/>
<line class="B" x1="136" x2="149" transform="rotate(155.45)"/>
<circle class="B" r="123" pathLength="360" stroke-dasharray="14.32 720" transform="rotate(135)"/>
<line class="B" x1="123" x2="162" transform="rotate(135)"/>
<line class="B" x1="123" x2="136" transform="rotate(149.32)"/>
<line class="B" x1="96" x2="123" transform="rotate(142.16)"/>
<circle class="H" r="149" pathLength="360" stroke-dasharray="8.18 720" transform="rotate(192.27)"/>
<line class="H" x1="149" x2="162" transform="rotate(192.27)"/>
<line class="H" x1="149" x2="162" transform="rotate(200.45)"/>
<circle class="H" r="135" pathLength="360" stroke-dasharray="12.27 720" transform="rotate(184.09)"/>
<line class="H" x1="135" x2="162" transform="rotate(184.09)"/>
<line class="H" x1="135" x2="149" transform="rotate(196.36)"/>
<circle class="H" r="121" pathLength="360" stroke-dasharray="14.32 720" transform="rotate(175.91)"/>
<line class="H" x1="121" x2="162" transform="rotate(175.91)"/>
<line class="H" x1="121" x2="135" transform="rotate(190.23)"/>
<line class="H" x1="109" x2="121" transform="rotate(183.07)"/>
<circle class="k" r="109" pathLength="360" stroke-dasharray="15.34 720" transform="rotate(167.73)"/>
<line class="B" x1="109" x2="162" transform="rotate(167.73)"/>
<line class="k" x1="96" x2="109" transform="rotate(175.4)"/>
<circle class="k" r="96" pathLength="360" stroke-dasharray="33.24 720" transform="rotate(142.16)"/>
<line class="k" x1="80" x2="96" transform="rotate(158.78)"/>
<circle class="k" r="80" pathLength="360" stroke-dasharray="57.02 720" transform="rotate(101.76)"/>
<line class="k" x1="66" x2="80" transform="rotate(130.27)"/>
<circle class="k" r="66" pathLength="360" stroke-dasharray="77.34 720" transform="rotate(52.93)"/>
<line class="k" x1="53" x2="66" transform="rotate(91.6)"/>
<circle class="k" r="53" pathLength="360" stroke-dasharray="114.48 720" transform="rotate(337.12)"/>
<line class="k" x1="40" x2="53" transform="rotate(34.36)"/>
<circle class="k" r="40" pathLength="360" stroke-dasharray="104.93 720" transform="rotate(289.43)"/>
<line class="k" x1="27" x2="40" transform="rotate(341.9)"/>
<circle class="A" r="147" pathLength="360" stroke-dasharray="8.18 720" transform="rotate(265.91)"/>
<line class="A" x1="147" x2="162" transform="rotate(265.91)"/>
<line class="A" x1="147" x2="162" transform="rotate(274.09)"/>
<circle class="A" r="146" pathLength="360" stroke-dasharray="8.18 720" transform="rotate(249.55)"/>
<line class="A" x1="146" x2="162" transform="rotate(249.55)"/>
<line class="A" x1="146" x2="162" transform="rotate(257.73)"/>
<circle class="A" r="130" pathLength="360" stroke-dasharray="16.36 720" transform="rotate(253.64)"/>
<line class="A" x1="130" x2="146" transform="rotate(253.64)"/>
<line class="A" x1="130" x2="147" transform="rotate(270)"/>
<circle class="A" r="117" pathLength="360" stroke-dasharray="20.46 720" transform="rotate(241.36)"/>
<line class="A" x1="117" x2="162" transform="rotate(241.36)"/>
<line class="A" x1="117" x2="130" transform="rotate(261.82)"/>
<circle class="A" r="105" pathLength="360" stroke-dasharray="18.41 720" transform="rotate(233.18)"/>
<line class="A" x1="105" x2="162" transform="rotate(233.18)"/>
<line class="A" x1="105" x2="117" transform="rotate(251.59)"/>
<line class="A" x1="95" x2="105" transform="rotate(242.39)"/>
<circle class="k" r="149" pathLength="360" stroke-dasharray="8.18 720" transform="rotate(216.82)"/>
<line class="G" x1="149" x2="162" transform="rotate(216.82)"/>
<line class="H" x1="149" x2="162" transform="rotate(225)"/>
<circle class="k" r="95" pathLength="360" stroke-dasharray="21.48 720" transform="rotate(220.91)"/>
<line class="k" x1="95" x2="149" transform="rotate(220.91)"/>
<line class="k" x1="83" x2="95" transform="rotate(231.65)"/>
<circle class="k" r="83" pathLength="360" stroke-dasharray="23.01 720" transform="rotate(208.64)"/>
<line class="D" x1="83" x2="162" transform="rotate(208.64)"/>
<line class="k" x1="27" x2="83" transform="rotate(220.15)"/>
<circle class="k" r="27" pathLength="360" stroke-dasharray="121.75 720" transform="rotate(220.15)"/>
<line class="k" x1="15" x2="27" transform="rotate(281.03)"/>
</g>
<g id="d-leaves" class="n">
<text id="d-L4" class="L" x="166" transform="rotate(-4.09)">L4</text>
<text id="d-G3" class="G" x="166" transform="rotate(4.09)">G3</text>
<text id="d-G6" class="G" x="166" transform="rotate(12.27)">G6</text>
<text id="d-G4" class="G" x="166" transform="rotate(20.45)">G4</text>
<text id="d-G2" class="G" x="166" transform="rotate(28.64)">G2</text>
<text id="d-G5" class="G" x="166" transform="rotate(36.82)">G5</text>
<text id="d-M3" class="M" x="166" transform="rotate(45)">M3</text>
<text id="d-M5" class="M" x="166" transform="rotate(53.18)">M5</text>
<text id="d-M2" class="M" x="166" transform="rotate(61.36)">M2</text>
<text id="d-M4" class="M" x="166" transform="rotate(69.55)">M4</text>
<text id="d-M1" class="M" x="166" transform="rotate(77.73)">M1</text>
<text id="d-M6" class="M" x="166" transform="rotate(85.91)">M6</text>
<text id="d-A6" class="A" x="166" transform="rotate(-85.91)">A6</text>
<text id="d-O5" class="O" x="166" transform="rotate(-77.73)">O5</text>
<text id="d-O3" class="O" x="166" transform="rotate(-69.55)">O3</text>
<text id="d-O1" class="O" x="166" transform="rotate(-61.36)">O1</text>
<text id="d-O4" class="O" x="166" transform="rotate(-53.18)">O4</text>
<text id="d-O2" class="O" x="166" transform="rotate(-45)">O2</text>
<text id="d-O6" class="O" x="166" transform="rotate(-36.82)">O6</text>
<text id="d-L2" class="L" x="166" transform="rotate(-28.64)">L2</text>
<text id="d-L1" class="L" x="166" transform="rotate(-20.45)">L1</text>
<text id="d-L3" class="L" x="166" transform="rotate(-12.27)">L3</text>
<text id="d-D5" class="l D" x="-166" transform="rotate(-85.91)">D5</text>
<text id="d-D4" class="l D" x="-166" transform="rotate(-77.73)">D4</text>
<text id="d-D2" class="l D" x="-166" transform="rotate(-69.55)">D2</text>
<text id="d-D3" class="l D" x="-166" transform="rotate(-61.36)">D3</text>
<text id="d-D6" class="l D" x="-166" transform="rotate(-53.18)">D6</text>
<text id="d-B4" class="l B" x="-166" transform="rotate(-45)">B4</text>
<text id="d-B2" class="l B" x="-166" transform="rotate(-36.82)">B2</text>
<text id="d-B1" class="l B" x="-166" transform="rotate(-28.64)">B1</text>
<text id="d-B3" class="l B" x="-166" transform="rotate(-20.45)">B3</text>
<text id="d-B5" class="l B" x="-166" transform="rotate(-12.27)">B5</text>
<text id="d-GH4" class="l H" x="-166" transform="rotate(-4.09)">GH4</text>
<text id="d-GH1" class="l H" x="-166" transform="rotate(4.09)">GH1</text>
<text id="d-GH2" class="l H" x="-166" transform="rotate(12.27)">GH2</text>
<text id="d-GH5" class="l H" x="-166" transform="rotate(20.45)">GH5</text>
<text id="d-D1" class="l D" x="-166" transform="rotate(28.64)">D1</text>
<text id="d-G1" class="l G" x="-166" transform="rotate(36.82)">G1</text>
<text id="d-GH3" class="l H" x="-166" transform="rotate(45)">GH3</text>
<text id="d-A1" class="l A" x="-166" transform="rotate(53.18)">A1</text>
<text id="d-A4" class="l A" x="-166" transform="rotate(61.36)">A4</text>
<text id="d-A2" class="l A" x="-166" transform="rotate(69.55)">A2</text>
<text id="d-A3" class="l A" x="-166" transform="rotate(77.73)">A3</text>
<text id="d-A5" class="l A" x="-166" transform="rotate(85.91)">A5</text>
</g>
</g>

<!-- ================= e. FPS ================= -->
<g id="tree-e" transform="translate(619,713.5)">
<g id="e-edges" class="e">
<circle class="A" r="143" pathLength="360" stroke-dasharray="8.19 720" transform="rotate(331.36)"/>
<line class="A" x1="143" x2="160" transform="rotate(331.36)"/>
<line class="A" x1="143" x2="160" transform="rotate(339.55)"/>
<circle class="k" r="130" pathLength="360" stroke-dasharray="12.28 720" transform="rotate(323.18)"/>
<line class="B" x1="130" x2="160" transform="rotate(323.18)"/>
<line class="A" x1="130" x2="143" transform="rotate(335.45)"/>
<circle class="k" r="119" pathLength="360" stroke-dasharray="14.32 720" transform="rotate(315)"/>
<line class="D" x1="119" x2="160" transform="rotate(315)"/>
<line class="k" x1="119" x2="130" transform="rotate(329.32)"/>
<circle class="L" r="147" pathLength="360" stroke-dasharray="8.18 720" transform="rotate(298.64)"/>
<line class="L" x1="147" x2="160" transform="rotate(298.64)"/>
<line class="L" x1="147" x2="160" transform="rotate(306.82)"/>
<circle class="k" r="108" pathLength="360" stroke-dasharray="19.43 720" transform="rotate(302.73)"/>
<line class="L" x1="108" x2="147" transform="rotate(302.73)"/>
<line class="k" x1="108" x2="119" transform="rotate(322.16)"/>
<circle class="k" r="95" pathLength="360" stroke-dasharray="22 720" transform="rotate(290.45)"/>
<line class="O" x1="95" x2="160" transform="rotate(290.45)"/>
<line class="k" x1="95" x2="108" transform="rotate(312.45)"/>
<line class="k" x1="65" x2="95" transform="rotate(301.45)"/>
<circle class="k" r="146" pathLength="360" stroke-dasharray="8.18 720" transform="rotate(-12.27)"/>
<line class="O" x1="146" x2="160" transform="rotate(-12.27)"/>
<line class="M" x1="146" x2="160" transform="rotate(-4.09)"/>
<circle class="k" r="147" pathLength="360" stroke-dasharray="8.18 720" transform="rotate(4.09)"/>
<line class="O" x1="147" x2="160" transform="rotate(4.09)"/>
<line class="G" x1="147" x2="160" transform="rotate(12.27)"/>
<circle class="M" r="144" pathLength="360" stroke-dasharray="8.18 720" transform="rotate(45)"/>
<line class="M" x1="144" x2="160" transform="rotate(45)"/>
<line class="M" x1="144" x2="160" transform="rotate(53.18)"/>
<circle class="M" r="128" pathLength="360" stroke-dasharray="12.27 720" transform="rotate(36.82)"/>
<line class="M" x1="128" x2="160" transform="rotate(36.82)"/>
<line class="M" x1="128" x2="144" transform="rotate(49.09)"/>
<circle class="M" r="113" pathLength="360" stroke-dasharray="14.32 720" transform="rotate(28.64)"/>
<line class="M" x1="113" x2="160" transform="rotate(28.64)"/>
<line class="M" x1="113" x2="128" transform="rotate(42.96)"/>
<circle class="k" r="103" pathLength="360" stroke-dasharray="15.35 720" transform="rotate(20.45)"/>
<line class="D" x1="103" x2="160" transform="rotate(20.45)"/>
<line class="M" x1="103" x2="113" transform="rotate(35.8)"/>
<circle class="k" r="91" pathLength="360" stroke-dasharray="19.95 720" transform="rotate(8.18)"/>
<line class="k" x1="91" x2="147" transform="rotate(8.18)"/>
<line class="k" x1="91" x2="103" transform="rotate(28.13)"/>
<circle class="k" r="79" pathLength="360" stroke-dasharray="26.34 720" transform="rotate(-8.18)"/>
<line class="k" x1="79" x2="146" transform="rotate(-8.18)"/>
<line class="k" x1="79" x2="91" transform="rotate(18.16)"/>
<circle class="k" r="65" pathLength="360" stroke-dasharray="63.54 720" transform="rotate(301.45)"/>
<line class="k" x1="65" x2="79" transform="rotate(4.99)"/>
<line class="k" x1="53" x2="65" transform="rotate(333.22)"/>
<circle class="k" r="145" pathLength="360" stroke-dasharray="8.18 720" transform="rotate(85.91)"/>
<line class="G" x1="145" x2="160" transform="rotate(85.91)"/>
<line class="H" x1="145" x2="160" transform="rotate(94.09)"/>
<circle class="k" r="131" pathLength="360" stroke-dasharray="12.27 720" transform="rotate(77.73)"/>
<line class="B" x1="131" x2="160" transform="rotate(77.73)"/>
<line class="k" x1="131" x2="145" transform="rotate(90)"/>
<circle class="k" r="120" pathLength="360" stroke-dasharray="14.32 720" transform="rotate(69.55)"/>
<line class="O" x1="120" x2="160" transform="rotate(69.55)"/>
<line class="k" x1="120" x2="131" transform="rotate(83.87)"/>
<circle class="k" r="107" pathLength="360" stroke-dasharray="15.35 720" transform="rotate(61.36)"/>
<line class="G" x1="107" x2="160" transform="rotate(61.36)"/>
<line class="k" x1="107" x2="120" transform="rotate(76.71)"/>
<line class="k" x1="78" x2="107" transform="rotate(69.04)"/>
<circle class="k" r="146" pathLength="360" stroke-dasharray="8.18 720" transform="rotate(126.82)"/>
<line class="H" x1="146" x2="160" transform="rotate(126.82)"/>
<line class="G" x1="146" x2="160" transform="rotate(135)"/>
<circle class="k" r="131" pathLength="360" stroke-dasharray="12.27 720" transform="rotate(118.64)"/>
<line class="G" x1="131" x2="160" transform="rotate(118.64)"/>
<line class="k" x1="131" x2="146" transform="rotate(130.91)"/>
<circle class="k" r="116" pathLength="360" stroke-dasharray="14.33 720" transform="rotate(110.45)"/>
<line class="H" x1="116" x2="160" transform="rotate(110.45)"/>
<line class="k" x1="116" x2="131" transform="rotate(124.78)"/>
<circle class="k" r="104" pathLength="360" stroke-dasharray="15.35 720" transform="rotate(102.27)"/>
<line class="L" x1="104" x2="160" transform="rotate(102.27)"/>
<line class="k" x1="104" x2="116" transform="rotate(117.62)"/>
<line class="k" x1="88" x2="104" transform="rotate(109.95)"/>
<circle class="A" r="148" pathLength="360" stroke-dasharray="8.19 720" transform="rotate(151.36)"/>
<line class="A" x1="148" x2="160" transform="rotate(151.36)"/>
<line class="A" x1="148" x2="160" transform="rotate(159.55)"/>
<circle class="k" r="131" pathLength="360" stroke-dasharray="12.27 720" transform="rotate(143.18)"/>
<line class="D" x1="131" x2="160" transform="rotate(143.18)"/>
<line class="A" x1="131" x2="148" transform="rotate(155.45)"/>
<circle class="k" r="147" pathLength="360" stroke-dasharray="8.18 720" transform="rotate(175.91)"/>
<line class="O" x1="147" x2="160" transform="rotate(175.91)"/>
<line class="D" x1="147" x2="160" transform="rotate(184.09)"/>
<circle class="k" r="147" pathLength="360" stroke-dasharray="8.18 720" transform="rotate(192.27)"/>
<line class="M" x1="147" x2="160" transform="rotate(192.27)"/>
<line class="D" x1="147" x2="160" transform="rotate(200.45)"/>
<circle class="k" r="133" pathLength="360" stroke-dasharray="16.36 720" transform="rotate(180)"/>
<line class="k" x1="133" x2="147" transform="rotate(180)"/>
<line class="k" x1="133" x2="147" transform="rotate(196.36)"/>
<circle class="k" r="118" pathLength="360" stroke-dasharray="20.45 720" transform="rotate(167.73)"/>
<line class="H" x1="118" x2="160" transform="rotate(167.73)"/>
<line class="k" x1="118" x2="133" transform="rotate(188.18)"/>
<circle class="k" r="105" pathLength="360" stroke-dasharray="28.64 720" transform="rotate(149.32)"/>
<line class="k" x1="105" x2="131" transform="rotate(149.32)"/>
<line class="k" x1="105" x2="118" transform="rotate(177.96)"/>
<line class="k" x1="88" x2="105" transform="rotate(163.64)"/>
<circle class="k" r="88" pathLength="360" stroke-dasharray="53.69 720" transform="rotate(109.95)"/>
<line class="k" x1="78" x2="88" transform="rotate(136.8)"/>
<circle class="k" r="78" pathLength="360" stroke-dasharray="67.76 720" transform="rotate(69.04)"/>
<line class="k" x1="53" x2="78" transform="rotate(102.92)"/>
<circle class="k" r="53" pathLength="360" stroke-dasharray="129.7 720" transform="rotate(333.22)"/>
<line class="k" x1="40" x2="53" transform="rotate(38.07)"/>
<circle class="k" r="149" pathLength="360" stroke-dasharray="8.18 720" transform="rotate(216.82)"/>
<line class="A" x1="149" x2="160" transform="rotate(216.82)"/>
<line class="H" x1="149" x2="160" transform="rotate(225)"/>
<circle class="k" r="147" pathLength="360" stroke-dasharray="8.18 720" transform="rotate(233.18)"/>
<line class="G" x1="147" x2="160" transform="rotate(233.18)"/>
<line class="O" x1="147" x2="160" transform="rotate(241.36)"/>
<circle class="k" r="132" pathLength="360" stroke-dasharray="16.36 720" transform="rotate(220.91)"/>
<line class="k" x1="132" x2="149" transform="rotate(220.91)"/>
<line class="k" x1="132" x2="147" transform="rotate(237.27)"/>
<circle class="B" r="146" pathLength="360" stroke-dasharray="8.18 720" transform="rotate(257.73)"/>
<line class="B" x1="146" x2="160" transform="rotate(257.73)"/>
<line class="B" x1="146" x2="160" transform="rotate(265.91)"/>
<circle class="k" r="149" pathLength="360" stroke-dasharray="8.18 720" transform="rotate(274.09)"/>
<line class="B" x1="149" x2="160" transform="rotate(274.09)"/>
<line class="A" x1="149" x2="160" transform="rotate(282.27)"/>
<circle class="k" r="132" pathLength="360" stroke-dasharray="16.36 720" transform="rotate(261.82)"/>
<line class="B" x1="132" x2="146" transform="rotate(261.82)"/>
<line class="k" x1="132" x2="149" transform="rotate(278.18)"/>
<circle class="k" r="121" pathLength="360" stroke-dasharray="20.45 720" transform="rotate(249.55)"/>
<line class="L" x1="121" x2="160" transform="rotate(249.55)"/>
<line class="k" x1="121" x2="132" transform="rotate(270)"/>
<circle class="k" r="106" pathLength="360" stroke-dasharray="30.68 720" transform="rotate(229.09)"/>
<line class="k" x1="106" x2="132" transform="rotate(229.09)"/>
<line class="k" x1="106" x2="121" transform="rotate(259.77)"/>
<line class="k" x1="40" x2="106" transform="rotate(244.43)"/>
<circle class="k" r="40" pathLength="360" stroke-dasharray="153.64 720" transform="rotate(244.43)"/>
<line class="k" x1="27" x2="40" transform="rotate(321.25)"/>
<circle class="k" r="27" pathLength="360" stroke-dasharray="112.61 720" transform="rotate(208.64)"/>
<line class="D" x1="27" x2="160" transform="rotate(208.64)"/>
<line class="k" x1="15" x2="27" transform="rotate(264.95)"/>
</g>
<g id="e-leaves" class="n">
<text id="e-O1" class="O" x="164" transform="rotate(-12.27)">O1</text>
<text id="e-M3" class="M" x="164" transform="rotate(-4.09)">M3</text>
<text id="e-O6" class="O" x="164" transform="rotate(4.09)">O6</text>
<text id="e-G3" class="G" x="164" transform="rotate(12.27)">G3</text>
<text id="e-D2" class="D" x="164" transform="rotate(20.45)">D2</text>
<text id="e-M6" class="M" x="164" transform="rotate(28.64)">M6</text>
<text id="e-M4" class="M" x="164" transform="rotate(36.82)">M4</text>
<text id="e-M1" class="M" x="164" transform="rotate(45)">M1</text>
<text id="e-M2" class="M" x="164" transform="rotate(53.18)">M2</text>
<text id="e-G5" class="G" x="164" transform="rotate(61.36)">G5</text>
<text id="e-O3" class="O" x="164" transform="rotate(69.55)">O3</text>
<text id="e-B5" class="B" x="164" transform="rotate(77.73)">B5</text>
<text id="e-G2" class="G" x="164" transform="rotate(85.91)">G2</text>
<text id="e-B2" class="B" x="164" transform="rotate(-85.91)">B2</text>
<text id="e-A4" class="A" x="164" transform="rotate(-77.73)">A4</text>
<text id="e-O4" class="O" x="164" transform="rotate(-69.55)">O4</text>
<text id="e-L3" class="L" x="164" transform="rotate(-61.36)">L3</text>
<text id="e-L4" class="L" x="164" transform="rotate(-53.18)">L4</text>
<text id="e-D4" class="D" x="164" transform="rotate(-45)">D4</text>
<text id="e-B4" class="B" x="164" transform="rotate(-36.82)">B4</text>
<text id="e-A5" class="A" x="164" transform="rotate(-28.64)">A5</text>
<text id="e-A6" class="A" x="164" transform="rotate(-20.45)">A6</text>
<text id="e-GH4" class="l H" x="-164" transform="rotate(-85.91)">GH4</text>
<text id="e-L1" class="l L" x="-164" transform="rotate(-77.73)">L1</text>
<text id="e-GH5" class="l H" x="-164" transform="rotate(-69.55)">GH5</text>
<text id="e-G6" class="l G" x="-164" transform="rotate(-61.36)">G6</text>
<text id="e-GH2" class="l H" x="-164" transform="rotate(-53.18)">GH2</text>
<text id="e-G4" class="l G" x="-164" transform="rotate(-45)">G4</text>
<text id="e-D5" class="l D" x="-164" transform="rotate(-36.82)">D5</text>
<text id="e-A2" class="l A" x="-164" transform="rotate(-28.64)">A2</text>
<text id="e-A3" class="l A" x="-164" transform="rotate(-20.45)">A3</text>
<text id="e-GH1" class="l H" x="-164" transform="rotate(-12.27)">GH1</text>
<text id="e-O2" class="l O" x="-164" transform="rotate(-4.09)">O2</text>
<text id="e-D3" class="l D" x="-164" transform="rotate(4.09)">D3</text>
<text id="e-M5" class="l M" x="-164" transform="rotate(12.27)">M5</text>
<text id="e-D6" class="l D" x="-164" transform="rotate(20.45)">D6</text>
<text id="e-D1" class="l D" x="-164" transform="rotate(28.64)">D1</text>
<text id="e-A1" class="l A" x="-164" transform="rotate(36.82)">A1</text>
<text id="e-GH3" class="l H" x="-164" transform="rotate(45)">GH3</text>
<text id="e-G1" class="l G" x="-164" transform="rotate(53.18)">G1</text>
<text id="e-O5" class="l O" x="-164" transform="rotate(61.36)">O5</text>
<text id="e-L2" class="l L" x="-164" transform="rotate(69.55)">L2</text>
<text id="e-B1" class="l B" x="-164" transform="rotate(77.73)">B1</text>
<text id="e-B3" class="l B" x="-164" transform="rotate(85.91)">B3</text>
</g>
</g>

<!-- ================= f. MKS ================= -->
<g id="tree-f" transform="translate(1010,716.5)">
<g id="f-edges" class="e">
<circle class="B" r="147" pathLength="360" stroke-dasharray="8.18 720" transform="rotate(339.55)"/>
<line class="B" x1="147" x2="160" transform="rotate(339.55)"/>
<line class="B" x1="147" x2="160" transform="rotate(347.73)"/>
<circle class="B" r="136" pathLength="360" stroke-dasharray="12.28 720" transform="rotate(331.36)"/>
<line class="B" x1="136" x2="160" transform="rotate(331.36)"/>
<line class="B" x1="136" x2="147" transform="rotate(343.64)"/>
<circle class="B" r="124" pathLength="360" stroke-dasharray="14.32 720" transform="rotate(323.18)"/>
<line class="B" x1="124" x2="160" transform="rotate(323.18)"/>
<line class="B" x1="124" x2="136" transform="rotate(337.5)"/>
<circle class="B" r="113" pathLength="360" stroke-dasharray="15.34 720" transform="rotate(315)"/>
<line class="B" x1="113" x2="160" transform="rotate(315)"/>
<line class="B" x1="113" x2="124" transform="rotate(330.34)"/>
<line class="B" x1="100" x2="113" transform="rotate(322.67)"/>
<circle class="H" r="147" pathLength="360" stroke-dasharray="8.19 720" transform="rotate(20.45)"/>
<line class="H" x1="147" x2="160" transform="rotate(20.45)"/>
<line class="H" x1="147" x2="160" transform="rotate(28.64)"/>
<circle class="H" r="133" pathLength="360" stroke-dasharray="12.28 720" transform="rotate(12.27)"/>
<line class="H" x1="133" x2="160" transform="rotate(12.27)"/>
<line class="H" x1="133" x2="147" transform="rotate(24.55)"/>
<circle class="H" r="120" pathLength="360" stroke-dasharray="14.32 720" transform="rotate(4.09)"/>
<line class="H" x1="120" x2="160" transform="rotate(4.09)"/>
<line class="H" x1="120" x2="133" transform="rotate(18.41)"/>
<line class="H" x1="111" x2="120" transform="rotate(11.25)"/>
<circle class="k" r="111" pathLength="360" stroke-dasharray="15.34 720" transform="rotate(-4.09)"/>
<line class="D" x1="111" x2="160" transform="rotate(-4.09)"/>
<circle class="k" r="100" pathLength="360" stroke-dasharray="40.91 720" transform="rotate(322.67)"/>
<line class="k" x1="100" x2="111" transform="rotate(3.58)"/>
<line class="k" x1="48" x2="100" transform="rotate(343.13)"/>
<circle class="O" r="144" pathLength="360" stroke-dasharray="8.18 720" transform="rotate(45)"/>
<line class="O" x1="144" x2="160" transform="rotate(45)"/>
<line class="O" x1="144" x2="160" transform="rotate(53.18)"/>
<circle class="O" r="145" pathLength="360" stroke-dasharray="8.18 720" transform="rotate(69.55)"/>
<line class="O" x1="145" x2="160" transform="rotate(69.55)"/>
<line class="O" x1="145" x2="160" transform="rotate(77.73)"/>
<circle class="O" r="130" pathLength="360" stroke-dasharray="12.28 720" transform="rotate(61.36)"/>
<line class="O" x1="130" x2="160" transform="rotate(61.36)"/>
<line class="O" x1="130" x2="145" transform="rotate(73.64)"/>
<circle class="O" r="124" pathLength="360" stroke-dasharray="18.41 720" transform="rotate(49.09)"/>
<line class="O" x1="124" x2="144" transform="rotate(49.09)"/>
<line class="O" x1="124" x2="130" transform="rotate(67.5)"/>
<circle class="O" r="66" pathLength="360" stroke-dasharray="21.48 720" transform="rotate(36.82)"/>
<line class="O" x1="66" x2="160" transform="rotate(36.82)"/>
<line class="O" x1="66" x2="124" transform="rotate(58.3)"/>
<line class="O" x1="60" x2="66" transform="rotate(47.56)"/>
<circle class="G" r="145" pathLength="360" stroke-dasharray="8.19 720" transform="rotate(110.45)"/>
<line class="G" x1="145" x2="160" transform="rotate(110.45)"/>
<line class="G" x1="145" x2="160" transform="rotate(118.64)"/>
<circle class="G" r="130" pathLength="360" stroke-dasharray="12.28 720" transform="rotate(102.27)"/>
<line class="G" x1="130" x2="160" transform="rotate(102.27)"/>
<line class="G" x1="130" x2="145" transform="rotate(114.55)"/>
<circle class="G" r="118" pathLength="360" stroke-dasharray="14.32 720" transform="rotate(94.09)"/>
<line class="G" x1="118" x2="160" transform="rotate(94.09)"/>
<line class="G" x1="118" x2="130" transform="rotate(108.41)"/>
<circle class="G" r="107" pathLength="360" stroke-dasharray="15.34 720" transform="rotate(85.91)"/>
<line class="G" x1="107" x2="160" transform="rotate(85.91)"/>
<line class="G" x1="107" x2="118" transform="rotate(101.25)"/>
<line class="G" x1="74" x2="107" transform="rotate(93.58)"/>
<circle class="L" r="145" pathLength="360" stroke-dasharray="8.18 720" transform="rotate(126.82)"/>
<line class="L" x1="145" x2="160" transform="rotate(126.82)"/>
<line class="L" x1="145" x2="160" transform="rotate(135)"/>
<circle class="L" r="150" pathLength="360" stroke-dasharray="8.18 720" transform="rotate(143.18)"/>
<line class="L" x1="150" x2="160" transform="rotate(143.18)"/>
<line class="L" x1="150" x2="160" transform="rotate(151.36)"/>
<circle class="L" r="132" pathLength="360" stroke-dasharray="16.36 720" transform="rotate(130.91)"/>
<line class="L" x1="132" x2="145" transform="rotate(130.91)"/>
<line class="L" x1="132" x2="150" transform="rotate(147.27)"/>
<line class="L" x1="87" x2="132" transform="rotate(139.09)"/>
<circle class="M" r="149" pathLength="360" stroke-dasharray="8.18 720" transform="rotate(192.27)"/>
<line class="M" x1="149" x2="160" transform="rotate(192.27)"/>
<line class="M" x1="149" x2="160" transform="rotate(200.45)"/>
<circle class="M" r="135" pathLength="360" stroke-dasharray="12.27 720" transform="rotate(184.09)"/>
<line class="M" x1="135" x2="160" transform="rotate(184.09)"/>
<line class="M" x1="135" x2="149" transform="rotate(196.36)"/>
<circle class="M" r="123" pathLength="360" stroke-dasharray="14.32 720" transform="rotate(175.91)"/>
<line class="M" x1="123" x2="160" transform="rotate(175.91)"/>
<line class="M" x1="123" x2="135" transform="rotate(190.23)"/>
<circle class="M" r="146" pathLength="360" stroke-dasharray="8.18 720" transform="rotate(159.55)"/>
<line class="M" x1="146" x2="160" transform="rotate(159.55)"/>
<line class="M" x1="146" x2="160" transform="rotate(167.73)"/>
<circle class="M" r="107" pathLength="360" stroke-dasharray="19.43 720" transform="rotate(163.64)"/>
<line class="M" x1="107" x2="146" transform="rotate(163.64)"/>
<line class="M" x1="107" x2="123" transform="rotate(183.07)"/>
<line class="M" x1="87" x2="107" transform="rotate(173.36)"/>
<circle class="k" r="87" pathLength="360" stroke-dasharray="34.27 720" transform="rotate(139.09)"/>
<line class="k" x1="74" x2="87" transform="rotate(156.23)"/>
<circle class="k" r="74" pathLength="360" stroke-dasharray="62.65 720" transform="rotate(93.58)"/>
<line class="k" x1="60" x2="74" transform="rotate(124.9)"/>
<circle class="k" r="60" pathLength="360" stroke-dasharray="77.34 720" transform="rotate(47.56)"/>
<line class="k" x1="48" x2="60" transform="rotate(86.23)"/>
<circle class="k" r="48" pathLength="360" stroke-dasharray="103.1 720" transform="rotate(343.13)"/>
<line class="k" x1="36" x2="48" transform="rotate(34.68)"/>
<circle class="A" r="149" pathLength="360" stroke-dasharray="8.18 720" transform="rotate(274.09)"/>
<line class="A" x1="149" x2="160" transform="rotate(274.09)"/>
<line class="A" x1="149" x2="160" transform="rotate(282.27)"/>
<circle class="A" r="150" pathLength="360" stroke-dasharray="8.18 720" transform="rotate(298.64)"/>
<line class="A" x1="150" x2="160" transform="rotate(298.64)"/>
<line class="A" x1="150" x2="160" transform="rotate(306.82)"/>
<circle class="A" r="137" pathLength="360" stroke-dasharray="12.28 720" transform="rotate(290.45)"/>
<line class="A" x1="137" x2="160" transform="rotate(290.45)"/>
<line class="A" x1="137" x2="150" transform="rotate(302.73)"/>
<circle class="A" r="123" pathLength="360" stroke-dasharray="18.41 720" transform="rotate(278.18)"/>
<line class="A" x1="123" x2="149" transform="rotate(278.18)"/>
<line class="A" x1="123" x2="137" transform="rotate(296.59)"/>
<circle class="A" r="111" pathLength="360" stroke-dasharray="21.48 720" transform="rotate(265.91)"/>
<line class="A" x1="111" x2="160" transform="rotate(265.91)"/>
<line class="A" x1="111" x2="123" transform="rotate(287.39)"/>
<line class="A" x1="36" x2="111" transform="rotate(276.65)"/>
<circle class="k" r="36" pathLength="360" stroke-dasharray="118.03 720" transform="rotate(276.65)"/>
<line class="k" x1="24" x2="36" transform="rotate(335.67)"/>
<circle class="k" r="147" pathLength="360" stroke-dasharray="8.18 720" transform="rotate(216.82)"/>
<line class="D" x1="147" x2="160" transform="rotate(216.82)"/>
<line class="H" x1="147" x2="160" transform="rotate(225)"/>
<circle class="k" r="137" pathLength="360" stroke-dasharray="12.27 720" transform="rotate(208.64)"/>
<line class="G" x1="137" x2="160" transform="rotate(208.64)"/>
<line class="k" x1="137" x2="147" transform="rotate(220.91)"/>
<circle class="D" r="149" pathLength="360" stroke-dasharray="8.18 720" transform="rotate(249.55)"/>
<line class="D" x1="149" x2="160" transform="rotate(249.55)"/>
<line class="D" x1="149" x2="160" transform="rotate(257.73)"/>
<circle class="D" r="136" pathLength="360" stroke-dasharray="12.28 720" transform="rotate(241.36)"/>
<line class="D" x1="136" x2="160" transform="rotate(241.36)"/>
<line class="D" x1="136" x2="149" transform="rotate(253.64)"/>
<circle class="D" r="121" pathLength="360" stroke-dasharray="14.32 720" transform="rotate(233.18)"/>
<line class="D" x1="121" x2="160" transform="rotate(233.18)"/>
<line class="D" x1="121" x2="136" transform="rotate(247.5)"/>
<line class="D" x1="110" x2="121" transform="rotate(240.34)"/>
<circle class="k" r="110" pathLength="360" stroke-dasharray="25.56 720" transform="rotate(214.78)"/>
<line class="k" x1="110" x2="137" transform="rotate(214.78)"/>
<line class="k" x1="24" x2="110" transform="rotate(227.56)"/>
<circle class="k" r="24" pathLength="360" stroke-dasharray="108.11 720" transform="rotate(227.56)"/>
<line class="k" x1="12" x2="24" transform="rotate(281.6)"/>
</g>
<g id="f-leaves" class="n">
<text id="f-D5" class="D" x="164" transform="rotate(-4.09)">D5</text>
<text id="f-GH4" class="H" x="164" transform="rotate(4.09)">GH4</text>
<text id="f-GH1" class="H" x="164" transform="rotate(12.27)">GH1</text>
<text id="f-GH2" class="H" x="164" transform="rotate(20.45)">GH2</text>
<text id="f-GH5" class="H" x="164" transform="rotate(28.64)">GH5</text>
<text id="f-O5" class="O" x="164" transform="rotate(36.82)">O5</text>
<text id="f-O2" class="O" x="164" transform="rotate(45)">O2</text>
<text id="f-O6" class="O" x="164" transform="rotate(53.18)">O6</text>
<text id="f-O3" class="O" x="164" transform="rotate(61.36)">O3</text>
<text id="f-O1" class="O" x="164" transform="rotate(69.55)">O1</text>
<text id="f-O4" class="O" x="164" transform="rotate(77.73)">O4</text>
<text id="f-G6" class="G" x="164" transform="rotate(85.91)">G6</text>
<text id="f-A4" class="A" x="164" transform="rotate(-85.91)">A4</text>
<text id="f-A6" class="A" x="164" transform="rotate(-77.73)">A6</text>
<text id="f-A5" class="A" x="164" transform="rotate(-69.55)">A5</text>
<text id="f-A2" class="A" x="164" transform="rotate(-61.36)">A2</text>
<text id="f-A3" class="A" x="164" transform="rotate(-53.18)">A3</text>
<text id="f-B4" class="B" x="164" transform="rotate(-45)">B4</text>
<text id="f-B3" class="B" x="164" transform="rotate(-36.82)">B3</text>
<text id="f-B5" class="B" x="164" transform="rotate(-28.64)">B5</text>
<text id="f-B1" class="B" x="164" transform="rotate(-20.45)">B1</text>
<text id="f-B2" class="B" x="164" transform="rotate(-12.27)">B2</text>
<text id="f-G3" class="l G" x="-164" transform="rotate(-85.91)">G3</text>
<text id="f-G5" class="l G" x="-164" transform="rotate(-77.73)">G5</text>
<text id="f-G2" class="l G" x="-164" transform="rotate(-69.55)">G2</text>
<text id="f-G4" class="l G" x="-164" transform="rotate(-61.36)">G4</text>
<text id="f-L1" class="l L" x="-164" transform="rotate(-53.18)">L1</text>
<text id="f-L4" class="l L" x="-164" transform="rotate(-45)">L4</text>
<text id="f-L2" class="l L" x="-164" transform="rotate(-36.82)">L2</text>
<text id="f-L3" class="l L" x="-164" transform="rotate(-28.64)">L3</text>
<text id="f-M2" class="l M" x="-164" transform="rotate(-20.45)">M2</text>
<text id="f-M3" class="l M" x="-164" transform="rotate(-12.27)">M3</text>
<text id="f-M5" class="l M" x="-164" transform="rotate(-4.09)">M5</text>
<text id="f-M4" class="l M" x="-164" transform="rotate(4.09)">M4</text>
<text id="f-M1" class="l M" x="-164" transform="rotate(12.27)">M1</text>
<text id="f-M6" class="l M" x="-164" transform="rotate(20.45)">M6</text>
<text id="f-G1" class="l G" x="-164" transform="rotate(28.64)">G1</text>
<text id="f-D1" class="l D" x="-164" transform="rotate(36.82)">D1</text>
<text id="f-GH3" class="l H" x="-164" transform="rotate(45)">GH3</text>
<text id="f-D2" class="l D" x="-164" transform="rotate(53.18)">D2</text>
<text id="f-D4" class="l D" x="-164" transform="rotate(61.36)">D4</text>
<text id="f-D3" class="l D" x="-164" transform="rotate(69.55)">D3</text>
<text id="f-D6" class="l D" x="-164" transform="rotate(77.73)">D6</text>
<text id="f-A1" class="l A" x="-164" transform="rotate(85.91)">A1</text>
</g>
</g>

<!-- legend -->
<g id="legend" class="key">
<g id="key-alpha"><rect x="136" y="952" width="211" height="30" rx="6" fill="#6a329f"/><text x="241.5" y="967">Alpha</text></g>
<g id="key-beta"><rect x="391" y="952" width="212" height="30" rx="6" fill="#8fce00"/><text x="497" y="967">Beta</text></g>
<g id="key-gamma"><rect x="641" y="952" width="212" height="30" rx="6" fill="#c90076"/><text x="747" y="967">Gamma</text></g>
<g id="key-delta"><rect x="902" y="952" width="212" height="30" rx="6" fill="#744700"/><text x="1008" y="967">Delta</text></g>
<g id="key-lambda"><rect x="136" y="995" width="211" height="29" rx="6" fill="#ce7e00"/><text x="241.5" y="1010">Lambda</text></g>
<g id="key-mu"><rect x="391" y="995" width="212" height="29" rx="6" fill="#0000ff"/><text x="497" y="1010">Mu</text></g>
<g id="key-gh"><rect x="641" y="995" width="212" height="29" rx="6" fill="#2986cc"/><text x="747" y="1010">GH/490R</text></g>
<g id="key-omicron"><rect x="902" y="995" width="212" height="29" rx="6" fill="#f44336"/><text x="1008" y="1010">Omicron</text></g>
</g>
</svg>
